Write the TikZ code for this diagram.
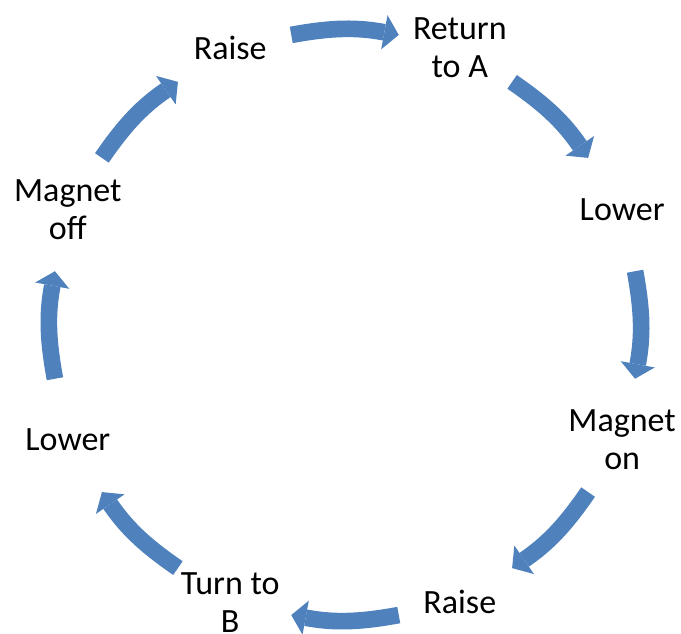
\documentclass[tikz,border=0pt]{standalone}
\usepackage{fontspec}
\setmainfont{Carlito}
\usetikzlibrary{arrows.meta}
\definecolor{cycleblue}{RGB}{79,129,189}

\begin{document}
\begin{tikzpicture}[
    x=.75pt,y=.75pt,
    font=\fontsize{25.5}{28.5}\selectfont,
    step label/.style={align=center,inner sep=0pt},
    flow/.style={draw=cycleblue,line width=12.5pt,
        -{Triangle[length=11pt,width=26pt,line width=0pt]}}
]
    \useasboundingbox (0,0) rectangle (681,634);
    \coordinate (hub) at (345,309);

    % Steps of the cycle, read clockwise from the top.
    \foreach \name/\angle/\words in {ret/67.5/Return\\to A,lowa/22.5/Lower,
        magon/-22.5/Magnet\\on,raiseb/-67.5/Raise,turn/-112.5/Turn to\\B,
        lowb/-157.5/Lower,magoff/157.5/Magnet\\off,raisea/112.5/Raise}
        \node[step label] (\name) at ([shift={(\angle:300)}]hub) {\words};

    % One bent arrow between each pair of neighbouring steps.
    \foreach \i/\angle in {1/90,2/45,3/0,4/-45,5/-90,6/-135,7/180,8/135} {
        \path (hub) ++(\angle+10.5:295) coordinate (from\i);
        \path (hub) ++(\angle-10.5:295) coordinate (to\i);
        \draw[flow] (from\i) to[bend left=10.5] (to\i);
    }
\end{tikzpicture}
\end{document}
